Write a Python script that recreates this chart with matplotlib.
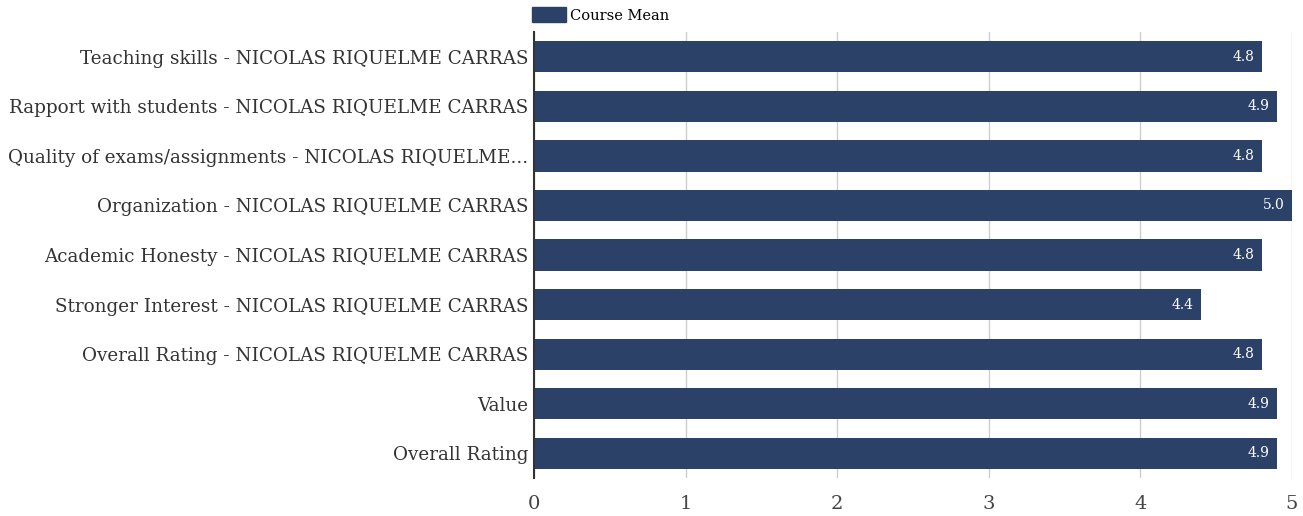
import matplotlib.pyplot as plt
import matplotlib.patches as mpatches

categories = [
    "Teaching skills - NICOLAS RIQUELME CARRAS",
    "Rapport with students - NICOLAS RIQUELME CARRAS",
    "Quality of exams/assignments - NICOLAS RIQUELME...",
    "Organization - NICOLAS RIQUELME CARRAS",
    "Academic Honesty - NICOLAS RIQUELME CARRAS",
    "Stronger Interest - NICOLAS RIQUELME CARRAS",
    "Overall Rating - NICOLAS RIQUELME CARRAS",
    "Value",
    "Overall Rating",
]
course_mean = [4.8, 4.9, 4.8, 5.0, 4.8, 4.4, 4.8, 4.9, 4.9]
x_ticks = [0, 1, 2, 3, 4, 5]

bar_color = "#2b4168"
plt.rcParams['font.family'] = ['DejaVu Serif']

fig = plt.figure(figsize=(13.03, 5.16), dpi=100)
ax = fig.add_axes([0.4098, 0.0736, 0.5818, 0.8644])

pos = list(range(len(categories)))
ax.barh(pos, course_mean, height=0.63, color=bar_color, zorder=3)
for p, v in zip(pos, course_mean):
    ax.text(v - 0.05, p, f"{v:.1f}", color="white", fontsize=10,
            ha="right", va="center", zorder=4)

ax.set_yticks(pos)
ax.set_yticklabels(categories, fontsize=13.2, color="#333333")
ax.set_ylim(len(categories) - 0.5, -0.5)
ax.set_xlim(0, 5)
ax.set_xticks(x_ticks)
ax.set_xticklabels([str(t) for t in x_ticks], fontsize=14, color="#444444")
ax.tick_params(axis="y", length=0, pad=4)
ax.tick_params(axis="x", length=0, pad=12)
ax.grid(axis="x", color="#cccccc", linewidth=1, zorder=0)
for s in ["top", "right", "bottom"]:
    ax.spines[s].set_visible(False)
ax.spines["left"].set_color("#333333")
ax.spines["left"].set_linewidth(1.5)
ax.spines["left"].set_zorder(5)

handle = mpatches.Patch(color=bar_color, label="Course Mean")
ax.legend(handles=[handle], loc="center left", bbox_to_anchor=(-0.002, 1.038),
          frameon=False, fontsize=10.5, handlelength=2.3, handleheight=1.2,
          handletextpad=0.3, borderaxespad=0, borderpad=0)

fig.savefig("out.png", dpi=100)
